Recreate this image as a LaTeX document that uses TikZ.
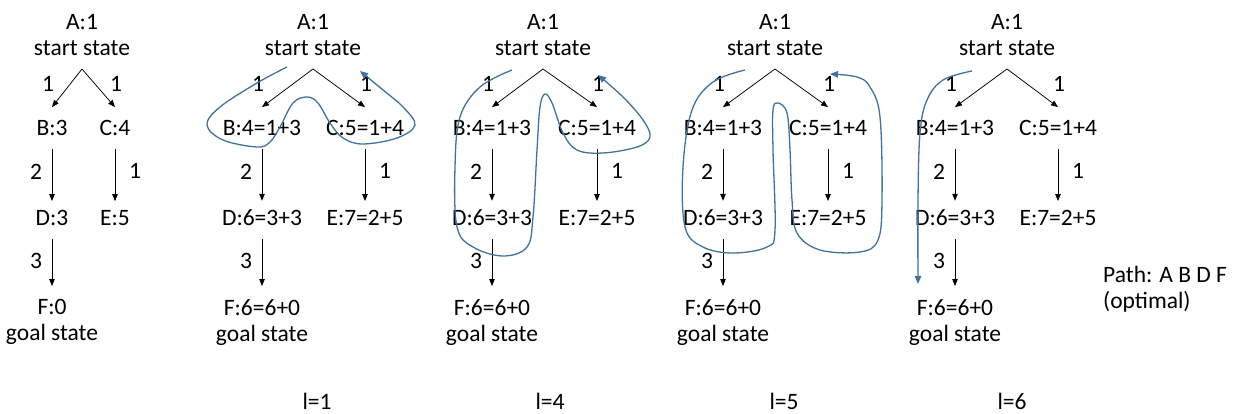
\documentclass[tikz,border=0pt]{standalone}
\usepackage{fontspec}
\setmainfont{Carlito}
\usetikzlibrary{arrows.meta}
\definecolor{curve}{RGB}{65,113,156}
\tikzset{
  txt/.style={inner xsep=2pt, inner ysep=13pt},
  elbl/.style={inner sep=0pt},
  arr/.style={line width=0.75pt, -{Triangle[length=7pt,width=5.5pt]}},
  longarr/.style={arr, shorten >=-4pt},
  tour/.style={draw=curve, line width=1.3pt, -{Triangle[length=8pt,width=6.5pt]}},
}
\newcommand\mypanel[9]{%
  \node[txt, anchor=south, align=center] (#1A) at (#2,69) {A:1\\start state};
  \node[txt] (#1B) at (#3,128) {#5};
  \node[txt] (#1C) at (#4,128) {#6};
  \node[txt] (#1D) at (#3,218) {#7};
  \node[txt] (#1E) at (#4,218) {#8};
  \node[txt, anchor=north, align=center] (#1F) at (#3,286) {#9\\goal state};
  \draw[arr] (#1A.south) -- (#1B.north);
  \draw[arr] (#1A.south) -- (#1C.north);
  \draw[longarr] (#1B.south) -- (#1D.north);
  \draw[longarr] (#1C.south) -- (#1E.north);
  \draw[arr] (#1D.south) -- (#1F.north);
  \node[elbl] (#1lab) at ({#3-4},84) {1};
  \node[elbl] (#1lac) at ({#4+1},84) {1};
  \node[elbl] (#1lbd) at ({#3-16},172) {2};
  \node[elbl] (#1lce) at ({#4+20},171) {1};
  \node[elbl] (#1ldf) at ({#3-16},261) {3};
}
\begin{document}
\begin{tikzpicture}[x=1pt,y=-1pt,font=\fontsize{23.5}{26}\selectfont]
\useasboundingbox (0,0) rectangle (1234,414);
\mypanel{p}{82}{52}{115}{B:3}{C:4}{D:3}{E:5}{F:0}
\mypanel{q}{313}{262}{365}{B:4=1+3}{C:5=1+4}{D:6=3+3}{E:7=2+5}{F:6=6+0}
\mypanel{r}{543}{492}{597}{B:4=1+3}{C:5=1+4}{D:6=3+3}{E:7=2+5}{F:6=6+0}
\mypanel{s}{775}{723}{828}{B:4=1+3}{C:5=1+4}{D:6=3+3}{E:7=2+5}{F:6=6+0}
\mypanel{t}{1007}{955}{1058}{B:4=1+3}{C:5=1+4}{D:6=3+3}{E:7=2+5}{F:6=6+0}
% search tours
\draw[tour] plot[smooth, tension=0.6] coordinates {(287,67) (257,83) (220,107) (207,125) (223,140) (257,147) (270,142) (280,127) (293,103) (307,97) (318,103) (330,123) (343,138) (363,144) (397,138) (415,125) (403,107) (383,90) (360,71)};
\draw[tour] plot[smooth, tension=0.6] coordinates {(512,70) (480,87) (460,117) (455,167) (457,227) (473,247) (503,256) (527,247) (533,217) (537,150) (540,107) (545,94) (552,103) (563,133) (577,150) (603,153) (637,147) (650,137) (643,120) (623,97) (598,75)};
\draw[tour] plot[smooth, tension=0.6] coordinates {(745,70) (713,82) (692,110) (683,167) (685,227) (703,247) (733,253) (767,247) (775,230) (773,150) (773,110) (778,103) (787,113) (790,150) (792,200) (797,233) (820,250) (860,252) (878,240) (882,200) (880,117) (870,87) (857,77) (830,74)};
\draw[tour] plot[smooth, tension=0.6] coordinates {(972,71) (943,80) (927,100) (920,133) (918,200) (918,284)};
\node[inner sep=0pt, anchor=north west, align=left] (path) at (1103,266) {Path: A B D F\\(optimal)};
\node[inner sep=0pt, anchor=base] (l1) at (317,409) {l=1};
\node[inner sep=0pt, anchor=base] (l4) at (550,409) {l=4};
\node[inner sep=0pt, anchor=base] (l5) at (784,409) {l=5};
\node[inner sep=0pt, anchor=base] (l6) at (1012,409) {l=6};
\end{tikzpicture}
\end{document}
